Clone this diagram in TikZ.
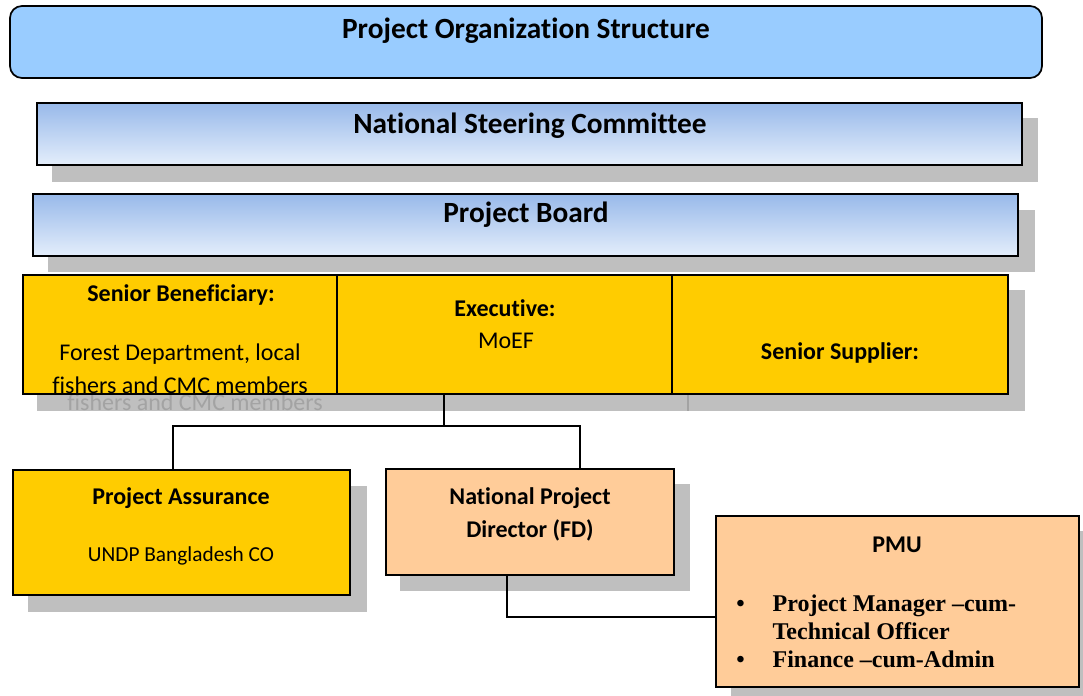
\documentclass[tikz,border=0pt]{standalone}
\usepackage{fontspec}
\setmainfont{Carlito}[Ligatures={TeX,NoCommon}]
\newfontfamily\tnr{Liberation Serif}[Ligatures={TeX}]
\definecolor{titleblue}{HTML}{99CCFF}
\definecolor{gradtop}{HTML}{98B9EA}
\definecolor{gradbot}{HTML}{E4EEFB}
\definecolor{yel}{HTML}{FFCC00}
\definecolor{peach}{HTML}{FFCC99}
\definecolor{shadowgray}{HTML}{BFBFBF}
\definecolor{ghostgray}{HTML}{A3A3A3}
\begin{document}
\begin{tikzpicture}[x=0.75pt,y=-0.75pt,
  box/.style={draw=black, line width=1.3pt, inner sep=0pt, outer sep=0pt, anchor=north west},
  wh/.style 2 args={minimum width=#1*0.75pt, minimum height=#2*0.75pt},
  shadowfill/.style={fill=shadowgray},
  bigtxt/.style={font=\fontsize{22}{26}\selectfont\bfseries, inner sep=0pt},
  midb/.style={font=\fontsize{18}{24.75}\selectfont\bfseries, inner sep=0pt, align=center},
  midr/.style={font=\fontsize{18}{24.75}\selectfont, inner sep=0pt, align=center},
  conn/.style={draw=black, line width=0.9pt}
]
\useasboundingbox (0,0) rectangle (1083,696);
% title
\node[box, rounded corners=9pt, fill=titleblue, wh={1032}{72}] (title) at (10,6) {};
\node[bigtxt] (titletxt) at (526,31) {Project Organization Structure};
% national steering committee
\fill[shadowfill] (52,118) rectangle (1038,182);
\node[box, top color=gradtop, bottom color=gradbot, wh={985}{62}] (nsc) at (37,103) {};
\node[bigtxt] (nsctxt) at (530,126) {National Steering Committee};
% project board
\fill[shadowfill] (48,210) rectangle (1035,272);
\node[box, top color=gradtop, bottom color=gradbot, wh={985}{62}] (board) at (33,194) {};
\node[bigtxt] (boardtxt) at (526,215) {Project Board};
% yellow row shadows
\fill[shadowfill] (37,290) rectangle (1025,411);
\draw[draw=ghostgray, line width=1.5pt] (688,394) -- (688,411);
\node[midr, text=ghostgray] (ghost) at (195,402) {fishers and CMC members};
% yellow row
\node[box, fill=yel, wh={314}{119}] (sb) at (23,275) {};
\node[box, fill=yel, wh={335}{119}] (ex) at (337,275) {};
\node[box, fill=yel, wh={336}{119}] (ss) at (672,275) {};
\node[midb] (sbtitle) at (181,295) {Senior Beneficiary:};
\node[midr] (sbtxt) at (180,369) {Forest Department, local\\fishers and CMC members};
\node[midb] (extitle) at (505,308) {Executive:};
\node[midr] (extxt) at (506,341) {MoEF};
\node[midb] (sstitle) at (840,353) {Senior Supplier:};
% lower boxes
\fill[shadowfill] (28,486) rectangle (367,612);
\node[box, fill=yel, wh={337}{125}] (pa) at (13,470) {};
\node[midb] (patitle) at (181,498) {Project Assurance};
\node[midr, font=\fontsize{16}{20}\selectfont] (patxt) at (181,556) {UNDP Bangladesh CO};
\fill[shadowfill] (400,484) rectangle (690,591);
\node[box, fill=peach, wh={288}{106}] (npd) at (386,469) {};
\node[midb] (npdtxt) at (530,514) {National Project\\Director (FD)};
\fill[shadowfill] (731,531) rectangle (1083,696);
\node[box, fill=peach, wh={363}{171}] (pmu) at (716,516) {};
\node[midb] (pmutitle) at (897,545) {PMU};
\node[font=\tnr\fontsize{18}{21}\selectfont\bfseries, inner sep=0pt, anchor=west] (pmulist) at (736,634)
  {\begin{tabular}{@{}l@{\hspace{21pt}}l@{}}\textbullet & Project Manager –cum-\\ & Technical Officer\\ \textbullet & Finance –cum-Admin\end{tabular}};
% connectors
\coordinate (j) at (444,426);
\coordinate (jl) at (173,426);
\coordinate (jr) at (580,426);
\coordinate (k) at (507,617);
\draw[conn] (j |- ex.south) -- (j);
\draw[conn] (jl |- pa.north) -- (jl) -- (jr) -- (jr |- npd.north);
\draw[conn] (k |- npd.south) -- (k) -- (k -| pmu.west);
\end{tikzpicture}
\end{document}
